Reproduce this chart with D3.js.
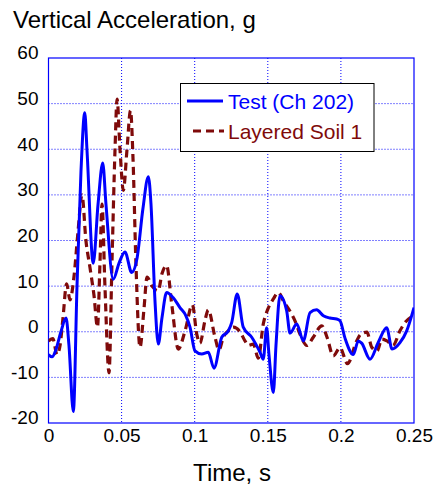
<!DOCTYPE html>
<html><head><meta charset="utf-8">
<script src="https://cdn.jsdelivr.net/npm/d3@7"></script>
<style>html,body{margin:0;padding:0;background:#fff;}svg{display:block;font-family:"Liberation Sans",Arial,sans-serif;}</style>
</head><body>
<script>
// Data
const xTicks = [0, 0.05, 0.1, 0.15, 0.2, 0.25];
const xTickLabels = ["0", "0.05", "0.1", "0.15", "0.2", "0.25"];
const yTicks = [-20, -10, 0, 10, 20, 30, 40, 50, 60];
const yTickLabels = ["-20", "-10", "0", "10", "20", "30", "40", "50", "60"];
const seriesNames = ["Test (Ch 202)", "Layered Soil 1"];

const testT = [0,0.0024,0.005,0.0085,0.012,0.014,0.017,0.0195,0.0222,0.0248,0.0263,0.0306,0.0339,0.0371,0.0393,0.0443,0.0482,0.0523,0.0569,0.0605,0.0646,0.0683,0.0701,0.0728,0.0751,0.0776,0.0808,0.0852,0.0899,0.094,0.0968,0.1002,0.1048,0.1093,0.1132,0.1185,0.123,0.1253,0.1291,0.1332,0.139,0.1447,0.1469,0.1492,0.1508,0.1538,0.1556,0.1583,0.1629,0.1652,0.1698,0.1743,0.1789,0.1834,0.188,0.1925,0.1971,0.1994,0.2028,0.2085,0.2119,0.2142,0.2199,0.2256,0.2313,0.235,0.2404,0.245,0.25];
const testG = [-5,-5.5,-4,0,3,-3,-17.5,10,35,48,40,15,28,37,28,11.5,15,17.5,13,16,27,34,28,7,-2.7,3,8.6,7.5,5.3,3.5,1,-4.2,-4.9,-4.5,-8,-1.2,0.2,2,8.3,1,-1.2,-4.5,-6,0.9,-5,-13.3,-3,7.9,4.6,-0.3,1.7,-2,4.2,4.8,3.5,3,2.8,2.4,-1.4,-5,-2,-2.5,-6,-2.3,0.9,-3.8,-2.4,0.2,5.3];

const soilT = [0,0.003,0.0058,0.0079,0.0099,0.0124,0.0147,0.0174,0.0202,0.0229,0.0256,0.0284,0.0311,0.0335,0.0352,0.0366,0.0386,0.0414,0.0434,0.0455,0.0469,0.0489,0.0512,0.0537,0.0561,0.0578,0.0598,0.0626,0.0653,0.0674,0.0708,0.0751,0.0776,0.0808,0.0843,0.0888,0.0934,0.0984,0.1014,0.1036,0.107,0.1093,0.1139,0.1166,0.1196,0.123,0.1264,0.131,0.1344,0.1367,0.1401,0.1435,0.1469,0.1501,0.1538,0.1572,0.1611,0.1652,0.1686,0.172,0.1768,0.1811,0.1869,0.1905,0.1948,0.1994,0.2045,0.2108,0.2137,0.2178,0.2211,0.2247,0.2281,0.2315,0.2356,0.2404,0.2438,0.2495];
const soilG = [-2,-1.5,-5,-3,3,10.5,7,12,22,30,20,14,8,1,15,28,10,-9,15,40,51,40,31,40,48.5,38,15,-3.4,5,12,10,9,12.7,14.5,6,-3.8,0.2,5.9,-0.5,-2.5,2.4,4.8,-1.2,-4,-1.2,0.2,1,0,-2,-3,-2.7,-5.8,1.7,5,7.2,8.6,6.5,4.5,2.4,-0.5,-3,-1.2,1.3,-1.2,-5.3,-3.5,-7,-2,-0.5,-0.1,-3.4,-4.2,-1.6,-2,-3,0.2,2,3.5];

const W = 434, H = 489;
const m = {left: 48.5, right: 414, top: 58, bottom: 423};
const blue = "#0000ff", red = "#7f0a0a";

const svg = d3.select("body").append("svg").attr("width", W).attr("height", H);
const x = d3.scaleLinear().domain([0, 0.25]).range([m.left, m.right]);
const y = d3.scaleLinear().domain([-20, 60]).range([m.bottom, m.top]);

// grid
const grid = svg.append("g");
xTicks.slice(1, -1).forEach(t => grid.append("line")
  .attr("x1", x(t)).attr("x2", x(t)).attr("y1", m.top).attr("y2", m.bottom)
  .attr("stroke", blue).attr("stroke-width", 1).attr("stroke-dasharray", "1,2"));
yTicks.slice(1, -1).forEach(v => grid.append("line")
  .attr("x1", m.left).attr("x2", m.right).attr("y1", y(v)).attr("y2", y(v))
  .attr("stroke", blue).attr("stroke-width", 1).attr("stroke-dasharray", "1,2"));

// axes (tick labels) via d3 axes
const xAxis = d3.axisBottom(x).tickValues(xTicks).tickSize(0).tickPadding(6)
  .tickFormat((d, i) => xTickLabels[i]);
const gx = svg.append("g").attr("transform", `translate(0,${m.bottom})`).call(xAxis);
gx.select(".domain").remove();
gx.selectAll("text").attr("font-size", 19).attr("fill", "#000")
  .attr("font-family", "Liberation Sans, Arial, sans-serif");

const yAxis = d3.axisLeft(y).tickValues(yTicks).tickSize(0).tickPadding(10)
  .tickFormat((d, i) => yTickLabels[i]);
const gy = svg.append("g").attr("transform", `translate(${m.left},0)`).call(yAxis);
gy.select(".domain").remove();
gy.selectAll("text").attr("font-size", 19).attr("fill", "#000").attr("dy", "0.05em")
  .attr("font-family", "Liberation Sans, Arial, sans-serif");

// frame
svg.append("rect").attr("x", m.left).attr("y", m.top)
  .attr("width", m.right - m.left).attr("height", m.bottom - m.top)
  .attr("fill", "none").attr("stroke", blue).attr("stroke-width", 1.2);

// clip
svg.append("clipPath").attr("id", "clip").append("rect")
  .attr("x", m.left).attr("y", m.top).attr("width", m.right - m.left).attr("height", m.bottom - m.top);

const line = d3.line().x(d => x(d[0])).y(d => y(d[1])).curve(d3.curveMonotoneX);
const plot = svg.append("g").attr("clip-path", "url(#clip)");

plot.append("path").datum(soilT.map((t, i) => [t, soilG[i]]))
  .attr("d", line).attr("fill", "none").attr("stroke", red)
  .attr("stroke-width", 3.2).attr("stroke-dasharray", "8,5");
plot.append("path").datum(testT.map((t, i) => [t, testG[i]]))
  .attr("d", line).attr("fill", "none").attr("stroke", blue)
  .attr("stroke-width", 3).attr("stroke-linejoin", "round");

// legend
const lg = svg.append("g");
lg.append("rect").attr("x", 180.5).attr("y", 83.5).attr("width", 193.5).attr("height", 68)
  .attr("fill", "#fff").attr("stroke", "#000").attr("stroke-width", 1);
lg.append("line").attr("x1", 187).attr("x2", 223).attr("y1", 101).attr("y2", 101)
  .attr("stroke", blue).attr("stroke-width", 3);
lg.append("line").attr("x1", 193).attr("x2", 224).attr("y1", 131).attr("y2", 131)
  .attr("stroke", red).attr("stroke-width", 3).attr("stroke-dasharray", "8,5");
lg.append("text").attr("x", 228).attr("y", 109).attr("font-size", 21).attr("fill", blue).text(seriesNames[0]);
lg.append("text").attr("x", 228).attr("y", 139).attr("font-size", 21).attr("fill", red).text(seriesNames[1]);

// titles
svg.append("text").attr("x", 13).attr("y", 28).attr("font-size", 24).attr("fill", "#000")
  .text("Vertical Acceleration, g");
svg.append("text").attr("x", 232).attr("y", 481).attr("text-anchor", "middle")
  .attr("font-size", 24).attr("fill", "#000").text("Time, s");
</script>
</body></html>
